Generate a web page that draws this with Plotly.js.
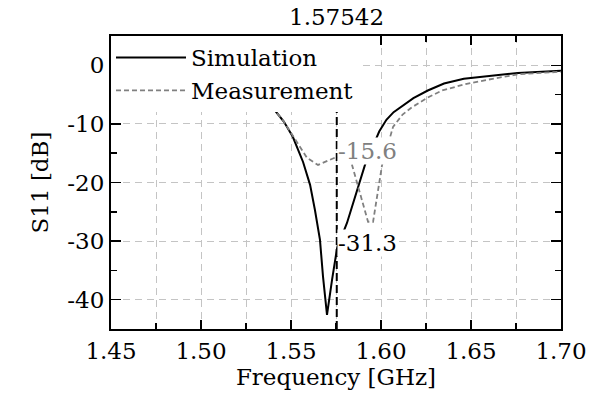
<!DOCTYPE html>
<html>
<head>
<meta charset="utf-8">
<script src="https://cdn.plot.ly/plotly-3.0.1.min.js"></script>
<style>html,body{margin:0;padding:0;background:#fff;}#chart{width:595px;height:402px;}</style>
</head>
<body>
<div id="chart"></div>
<script>
// Simulation (solid black)
const simFreq = [1.45, 1.48, 1.50, 1.52, 1.53, 1.540, 1.546, 1.551, 1.5567, 1.5606, 1.5633, 1.5661, 1.5678, 1.570, 1.5728, 1.5756, 1.5811, 1.5911, 1.599, 1.603, 1.607, 1.612, 1.618, 1.626, 1.635, 1.646, 1.662, 1.676, 1.70];
const simS11  = [-1.0, -1.6, -2.3, -3.6, -5.0, -7.3, -9.6, -12.2, -16.5, -20.4, -24.7, -29.8, -36.1, -42.6, -36.6, -31.2, -26.9, -17.0, -11.3, -9.3, -8.0, -6.9, -5.6, -4.3, -3.1, -2.3, -1.7, -1.3, -0.95];
// Measurement (dashed gray)
const measFreq = [1.45, 1.48, 1.50, 1.52, 1.53, 1.540, 1.546, 1.551, 1.5539, 1.5589, 1.565, 1.5756, 1.5839, 1.5928, 1.5956, 1.6006, 1.6067, 1.612, 1.617, 1.626, 1.634, 1.647, 1.662, 1.677, 1.70];
const measS11  = [-1.0, -1.6, -2.3, -3.6, -5.0, -7.3, -9.6, -12.0, -13.6, -15.8, -17.0, -15.6, -17.0, -26.7, -26.7, -17.0, -10.5, -8.4, -7.2, -5.5, -4.3, -3.2, -2.3, -1.5, -1.1];
// Marker
const markerFreq = 1.57542;
const markerLabels = ['-15.6', '-31.3'];
const markerValues = [-15.6, -31.3];
const markerColors = ['#808080', '#000000'];
const xTicks = [1.45, 1.50, 1.55, 1.60, 1.65, 1.70];
const xTickText = ['1.45', '1.50', '1.55', '1.60', '1.65', '1.70'];
const yTicks = [0, -10, -20, -30, -40];
const yTickText = ['0', '-10', '-20', '-30', '-40'];

const FONT = 'DejaVu Serif';
const FS = 23;

const traces = [
  {x: simFreq, y: simS11, name: 'Simulation', mode: 'lines',
   line: {color: '#000000', width: 2}},
  {x: measFreq, y: measS11, name: 'Measurement', mode: 'lines',
   line: {color: '#808080', width: 1.8, dash: '5px,3px'}}
];

const annotations = markerLabels.map((t, i) => ({
  x: markerFreq, y: markerValues[i], xref: 'x', yref: 'y',
  text: t, showarrow: false, xanchor: 'left', yanchor: 'middle',
  yshift: 6, xshift: 0, bgcolor: '#ffffff', borderpad: 0,
  font: {family: FONT, size: FS, color: markerColors[i]}
}));
annotations.push({
  x: markerFreq, y: 1, xref: 'x', yref: 'paper', text: String(markerFreq),
  showarrow: false, xanchor: 'center', yanchor: 'bottom', yshift: 4,
  font: {family: FONT, size: FS, color: '#000'}
});

const layout = {
  width: 595, height: 402,
  margin: {l: 111, r: 34, t: 36, b: 73},
  paper_bgcolor: '#fff', plot_bgcolor: '#fff',
  font: {family: FONT, size: FS, color: '#000'},
  showlegend: true,
  legend: {x: 0, y: 1, xanchor: 'left', yanchor: 'top', bgcolor: '#ffffff',
           borderwidth: 0, font: {family: FONT, size: FS}, itemwidth: 70,
           tracegroupgap: 0},
  xaxis: {range: [1.45, 1.70], tickvals: xTicks, ticktext: xTickText,
          ticks: 'inside', ticklen: 9, tickwidth: 1.5, tickcolor: '#000',
          showline: true, linecolor: '#000', linewidth: 2, mirror: 'ticks',
          showgrid: true, gridcolor: '#c4c4c4', griddash: '7px,5px', gridwidth: 1,
          zeroline: false,
          minor: {dtick: 0.025, tick0: 1.45, ticks: 'inside', ticklen: 6, tickcolor: '#000',
                  showgrid: true, gridcolor: '#c4c4c4', griddash: '7px,5px', gridwidth: 1},
          title: {text: 'Frequency [GHz]', font: {family: FONT, size: FS}, standoff: 4},
          tickfont: {family: FONT, size: FS}},
  yaxis: {range: [-45, 5], tickvals: yTicks, ticktext: yTickText,
          ticks: 'inside', ticklen: 10, tickwidth: 1.5, tickcolor: '#000',
          showline: true, linecolor: '#000', linewidth: 2, mirror: 'ticks',
          showgrid: true, gridcolor: '#c4c4c4', griddash: '7px,5px', gridwidth: 1,
          zeroline: false,
          minor: {dtick: 5, tick0: 0, ticks: 'inside', ticklen: 6, tickcolor: '#000', showgrid: false},
          title: {text: 'S11 [dB]', font: {family: FONT, size: FS}, standoff: 12},
          tickfont: {family: FONT, size: FS}},
  shapes: [{type: 'line', xref: 'x', yref: 'paper', x0: markerFreq, x1: markerFreq, y0: 0, y1: 1,
            line: {color: '#000', width: 2, dash: '8px,4px'}, layer: 'above'}],
  annotations: annotations
};

Plotly.newPlot('chart', traces, layout, {staticPlot: true, displayModeBar: false});
</script>
</body>
</html>
